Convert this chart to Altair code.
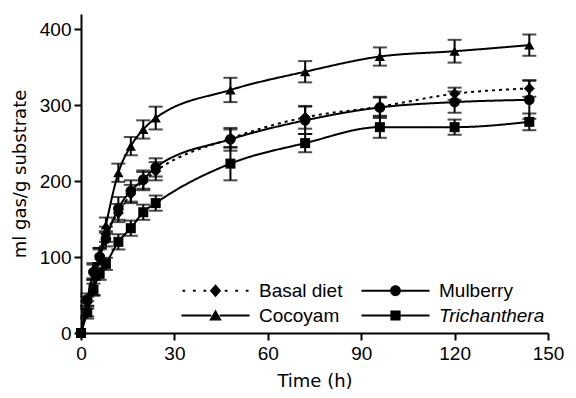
import altair as alt
import pandas as pd

time_h = [0, 2, 4, 6, 8, 12, 16, 20, 24, 48, 72, 96, 120, 144]
series_names = ["Basal diet", "Mulberry", "Cocoyam", "Trichanthera"]

basal = [0, 40, 82, 102, 130, 158, 183, 200, 213, 256, 284, 298, 315, 322]
basal_se = [0, 8, 10, 10, 10, 12, 12, 12, 12, 12, 15, 12, 8, 11]
mulberry = [0, 44, 80, 100, 124, 164, 187, 202, 218, 255, 280, 297, 304, 307]
mulberry_se = [0, 8, 10, 10, 10, 15, 14, 12, 12, 15, 18, 14, 14, 25]
cocoyam = [0, 32, 60, 102, 142, 211, 246, 268, 283, 320, 344, 364, 371, 379]
cocoyam_se = [0, 10, 10, 10, 10, 12, 12, 12, 15, 16, 14, 12, 15, 14]
trich = [0, 27, 57, 78, 91, 120, 138, 159, 171, 223, 250, 271, 271, 278]
trich_se = [0, 8, 8, 8, 8, 10, 10, 10, 10, 22, 12, 14, 10, 11]

x_ticks = [0, 30, 60, 90, 120, 150]
y_ticks = [0, 100, 200, 300, 400]

plot_shapes = ["diamond", "circle", "triangle-up", "square"]
marker_sizes = [120, 100, 180, 115]
dash_styles = [[3, 4], [1, 0], [1, 0], [1, 0]]

# legend symbols: line sample + marker, drawn as filled paths (units of sqrt(size)/2 px)
T = 0.16
def seg(a, b):
    return f"M{a:.2f},{-T}H{b:.2f}V{T}H{a:.2f}Z"
solid_line = seg(-5.67, -0.7) + seg(0.7, 5.67)
dotted_line = "".join(seg(a, a + 0.45) for a in [-5.5, -3.75, -2.0, 1.55, 3.3, 5.05])
legend_paths = [
    dotted_line + "M0,-1.1L0.95,0L0,1.1L-0.95,0Z",
    solid_line + "M-0.9,0A0.9,0.9 0 1,1 0.9,0A0.9,0.9 0 1,1 -0.9,0Z",
    solid_line + "M0,-1.0L1.05,0.85H-1.05Z",
    solid_line + "M-0.85,-0.85H0.85V0.85H-0.85Z",
]

rows = []
for name, vals, ses in zip(series_names, [basal, mulberry, cocoyam, trich],
                           [basal_se, mulberry_se, cocoyam_se, trich_se]):
    for t, v, s in zip(time_h, vals, ses):
        rows.append({"series": name, "time": t, "gas": v, "se": s,
                     "lo": v - s, "hi": v + s})
df = pd.DataFrame(rows)

FONT = "Liberation Sans"
TITLE_FONT = "DejaVu Sans"

x_enc = alt.X("time:Q", scale=alt.Scale(domain=[0, 150], nice=False),
              axis=alt.Axis(values=x_ticks, title="Time (h)", labelFlush=False))
y_scale = alt.Scale(domain=[0, 420], nice=False)
y_enc = alt.Y("gas:Q", scale=y_scale,
              axis=alt.Axis(values=y_ticks, title="ml gas/g substrate", labelFlush=False))

base = alt.Chart(df)

lines = base.mark_line(color="black", strokeWidth=2, interpolate="monotone").encode(
    x=x_enc, y=y_enc,
    detail="series:N",
    strokeDash=alt.StrokeDash("series:N", scale=alt.Scale(domain=series_names, range=dash_styles),
                              legend=None),
)

err = base.transform_filter("datum.se > 0")
bars = err.mark_rule(color="black", strokeWidth=2).encode(
    x="time:Q", y=alt.Y("lo:Q", scale=y_scale), y2="hi:Q")
cap_hi = err.mark_tick(color="black", orient="horizontal", size=14, thickness=2).encode(
    x="time:Q", y=alt.Y("hi:Q", scale=y_scale))
cap_lo = err.mark_tick(color="black", orient="horizontal", size=14, thickness=2).encode(
    x="time:Q", y=alt.Y("lo:Q", scale=y_scale))

points = base.mark_point(filled=True, color="black", opacity=1).encode(
    x="time:Q", y=alt.Y("gas:Q", scale=y_scale),
    shape=alt.Shape("series:N", scale=alt.Scale(domain=series_names, range=plot_shapes),
                    legend=None),
    size=alt.Size("series:N", scale=alt.Scale(domain=series_names, range=marker_sizes),
                  legend=None),
)

legend_df = pd.DataFrame({"key": series_names})
legend_layer = alt.Chart(legend_df).mark_point(
    filled=True, color="black", opacity=1
).encode(
    shape=alt.Shape("key:N", scale=alt.Scale(domain=series_names, range=legend_paths),
                    legend=alt.Legend(
                        title=None, orient="none", legendX=125, legendY=267,
                        direction="horizontal",
                        columns=2, symbolSize=144, labelFontSize=19, labelFont=FONT,
                        labelColor="black", columnPadding=15, rowPadding=5,
                        labelOffset=34, labelLimit=300,
                        symbolFillColor="black", symbolOpacity=1,
                        labelFontStyle=alt.ExprRef(
                            "datum.value === 'Trichanthera' ? 'italic' : 'normal'"),
                    )),
).transform_filter("false")

chart = alt.layer(lines, bars, cap_hi, cap_lo, points, legend_layer).resolve_scale(
    shape="independent", size="independent"
).properties(
    width=467, height=319,
    autosize=alt.AutoSizeParams(type="none"),
    padding={"left": 73, "top": 6, "right": 20, "bottom": 57},
).configure_view(stroke=None).configure_axis(
    grid=False, domainColor="black", domainWidth=2, tickColor="black", tickWidth=2,
    tickSize=7, labelFont=FONT, labelFontSize=19, labelColor="black", labelPadding=3,
    titleFont=TITLE_FONT, titleFontSize=18, titleColor="black", titleFontWeight="normal",
).configure_axisY(titlePadding=10).configure_axisX(titlePadding=9, labelPadding=4)

chart.save("out.html", embed_options={"renderer": "svg", "actions": False})
